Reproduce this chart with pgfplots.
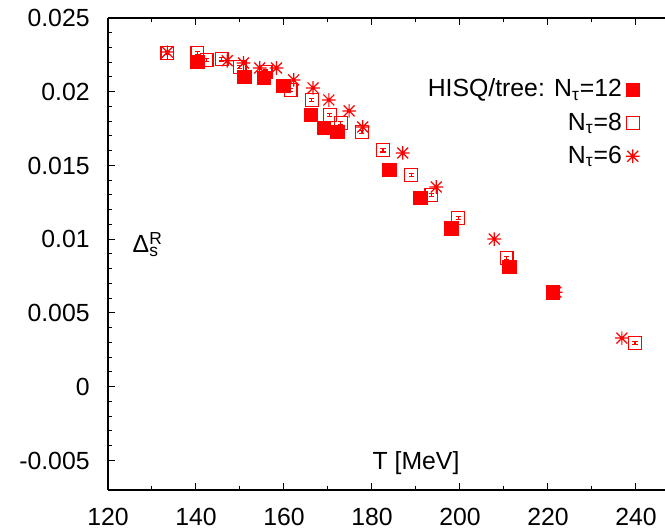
\documentclass[border=0pt]{standalone}
\usepackage{fontspec}
\setmainfont{Liberation Sans}
\usepackage{pgfplots}
\pgfplotsset{compat=1.18}

% gnuplot-like star: plus and cross together
\pgfdeclareplotmark{star8}{%
  \pgfpathmoveto{\pgfqpoint{-\pgfplotmarksize}{0pt}}%
  \pgfpathlineto{\pgfqpoint{\pgfplotmarksize}{0pt}}%
  \pgfpathmoveto{\pgfqpoint{0pt}{-\pgfplotmarksize}}%
  \pgfpathlineto{\pgfqpoint{0pt}{\pgfplotmarksize}}%
  \pgfpathmoveto{\pgfqpoint{-.8\pgfplotmarksize}{-.8\pgfplotmarksize}}%
  \pgfpathlineto{\pgfqpoint{.8\pgfplotmarksize}{.8\pgfplotmarksize}}%
  \pgfpathmoveto{\pgfqpoint{-.8\pgfplotmarksize}{.8\pgfplotmarksize}}%
  \pgfpathlineto{\pgfqpoint{.8\pgfplotmarksize}{-.8\pgfplotmarksize}}%
  \pgfusepathqstroke}

\pgfplotstableread{
T     D
133.5 0.02269
147.1 0.02210
150.8 0.02195
154.5 0.02161
158.3 0.02161
162.2 0.02080
166.6 0.02026
170.2 0.01944
174.8 0.01870
177.9 0.01761
187.0 0.01585
194.6 0.01354
207.8 0.01001
221.8 0.00641
236.8 0.00330
}\nsix

\pgfplotstableread{
T     D       E
133.5 0.02263 0.00012
140.3 0.02263 0.00012
142.4 0.02215 0.00012
145.8 0.02221 0.00012
149.9 0.02168 0.00012
155.8 0.02136 0.00012
161.5 0.02012 0.00012
166.3 0.01944 0.00012
170.4 0.01842 0.00012
172.9 0.01788 0.00012
177.7 0.01727 0.00012
182.5 0.01604 0.00012
188.9 0.01436 0.00012
193.5 0.01300 0.00012
199.6 0.01144 0.00012
210.6 0.00872 0.00012
239.8 0.00296 0.00012
}\neight

\pgfplotstableread{
T     D
140.3 0.02202
151.0 0.02100
155.4 0.02093
159.9 0.02040
166.1 0.01842
169.1 0.01754
172.2 0.01727
183.9 0.01469
191.0 0.01280
198.0 0.01075
211.3 0.00812
221.1 0.00641
}\ntwelve

\begin{document}
\fontsize{12.4}{14.5}\selectfont
\begin{tikzpicture}
\begin{axis}[
  name=ax,
  scale only axis,
  width=278.5pt, height=236pt,
  xmin=120, xmax=246.6,
  ymin=-0.007, ymax=0.025,
  axis x line*=box, axis y line*=left,
  axis line style={-, line width=0.6pt},
  xtick={120,140,...,240},
  minor x tick num=1,
  ytick={-0.005,0,0.005,0.01,0.015,0.02,0.025},
  yticklabels={-0.005,0,0.005,0.01,0.015,0.02,0.025},
  minor y tick num=4,
  scaled y ticks=false,
  tick align=inside,
  major tick length=3.5pt, minor tick length=1.8pt,
  tick style={line width=0.5pt, black},
  tick label style={font=\fontsize{12.4}{14.5}\selectfont, inner sep=0pt},
  xticklabel style={yshift=-9pt},
  yticklabel style={xshift=-9pt},
  /pgf/number format/assume math mode=true,
  xlabel={T [MeV]},
  xlabel style={at={(rel axis cs:0.553,0.057)}, anchor=center, inner sep=0pt},
  ylabel={Δ\rlap{\textsuperscript{R}}\textsubscript{s}},
  ylabel style={at={(rel axis cs:0.068,0.52)}, anchor=center, rotate=-90, inner sep=0pt},
  legend style={draw=none, fill=none, at={(rel axis cs:0.955,0.88)}, anchor=north east,
    font=\fontsize{12.4}{14.5}\selectfont, row sep=2pt, inner sep=0pt,
    /tikz/every even column/.append style={column sep=4pt}},
  legend cell align=right,
  legend plot pos=right,
  reverse legend,
  clip=false,
]
\addplot[only marks, red, mark=star8, mark size=3.4pt, line width=0.6pt]
  table[x=T, y=D] {\nsix};
\addlegendentry{N\textsubscript{τ}=6}
\addplot[only marks, red, mark=square, mark size=3.2pt, line width=0.6pt,
  error bars/.cd, y dir=both, y explicit,
  error bar style={line width=0.6pt},
  error mark options={rotate=90, mark size=1.3pt, line width=0.6pt}]
  table[x=T, y=D, y error=E] {\neight};
\addlegendentry{N\textsubscript{τ}=8}
\addplot[only marks, red, mark=square*, mark size=3.4pt]
  table[x=T, y=D] {\ntwelve};
\addlegendentry{HISQ/tree: N\textsubscript{τ}=12}
\end{axis}
\pgfresetboundingbox
\path[use as bounding box] ([shift={(-54pt,-20.5pt)}]ax.south west)
  rectangle ([shift={(0pt,9pt)}]ax.north east);
\end{tikzpicture}
\end{document}
